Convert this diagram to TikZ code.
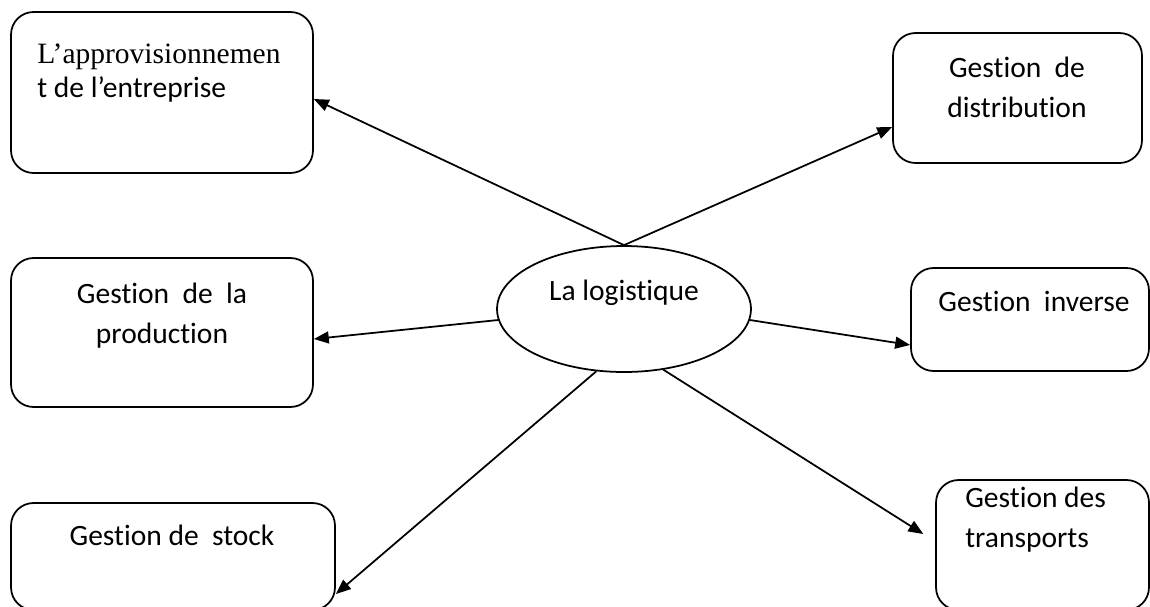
\documentclass[tikz,border=0pt]{standalone}
\usepackage{fontspec}
\setmainfont{Carlito}[Ligatures={NoCommon}]
\newfontfamily\serifline{Liberation Serif}
\usetikzlibrary{shapes.geometric,arrows.meta}

\begin{document}
\begin{tikzpicture}[
    x=0.02cm, y=-0.02cm,
    box/.style={rectangle, draw, line width=1pt, rounded corners=0.45cm, inner sep=0pt},
    oval/.style={ellipse, draw, line width=1pt, minimum width=5.08cm, minimum height=2.52cm, inner sep=0pt},
    txt/.style={inner sep=0pt, font=\fontsize{16.8pt}{22.8pt}\selectfont},
    arrow/.style={-{Triangle[length=8.5pt,width=6.8pt]}, line width=1pt}
]
    \useasboundingbox (0,0) rectangle (1150,606);
    \clip (0,0) rectangle (1150,606);

    % boxes
    \node (appro) at (162, 92.5) [box, minimum width=6.04cm, minimum height=3.22cm] {};
    \node (distri) at (1017.5, 98) [box, minimum width=4.98cm, minimum height=2.6cm] {};
    \node (prod) at (162, 332.5) [box, minimum width=6.04cm, minimum height=2.98cm] {};
    \node (inverse) at (1030, 319.5) [box, minimum width=4.76cm, minimum height=2.06cm] {};
    \node (stock) at (173, 556.5) [box, minimum width=6.48cm, minimum height=2.14cm] {};
    \node (transp) at (1042.5, 545) [box, minimum width=4.26cm, minimum height=2.6cm] {};
    \node (logi) at (624, 309) [oval] {};

    % texts
    \node (approtxt) at (37, 35) [txt, anchor=north west, align=left] {\strut{\serifline L’approvisionnemen}\\[-0.12cm]t de l’entreprise};
    \node (distritxt) at (1017, 49) [txt, anchor=north, align=center] {\strut Gestion~ de\\distribution};
    \node (prodtxt) at (162, 275) [txt, anchor=north, align=center] {\strut Gestion~ de~ la\\production};
    \node (inversetxt) at (1034, 283) [txt, anchor=north] {\strut Gestion~ inverse};
    \node (stocktxt) at (172, 517) [txt, anchor=north] {\strut Gestion de~ stock};
    \node (transptxt) at (965, 479) [txt, anchor=north west, align=left] {\strut Gestion des\\transports};
    \node (logitxt) at (624, 300) [txt, anchor=base] {La logistique};

    % arrows
    \draw[arrow] (logi.north) -- ([yshift=-0.13cm]appro.east);
    \draw[arrow] (logi.north) -- ([yshift=-0.58cm]distri.west);
    \draw[arrow] (logi.185) -- ([yshift=-0.13cm]prod.east);
    \draw[arrow] (logi.355) -- ([yshift=-0.51cm]inverse.west);
    \draw[arrow] (logi.246) -- ([yshift=-0.75cm]stock.east);
    \draw[arrow, shorten >=0.28cm] (logi.303) -- ([yshift=0.07cm]transp.west);

\end{tikzpicture}
\end{document}
